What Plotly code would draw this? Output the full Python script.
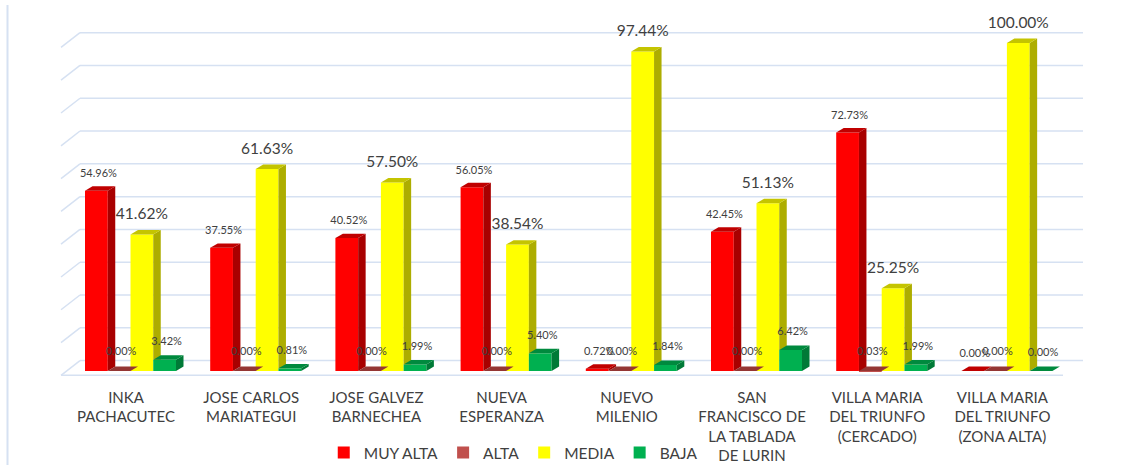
import plotly.graph_objects as go

categories = ["INKA<br>PACHACUTEC", "JOSE CARLOS<br>MARIATEGUI", "JOSE GALVEZ<br>BARNECHEA", "NUEVA<br>ESPERANZA",
              "NUEVO<br>MILENIO", "SAN<br>FRANCISCO DE<br>LA TABLADA<br>DE LURIN",
              "VILLA MARIA<br>DEL TRIUNFO<br>(CERCADO)", "VILLA MARIA<br>DEL TRIUNFO<br>(ZONA ALTA)"]
muy_alta = [54.96, 37.55, 40.52, 56.05, 0.72, 42.45, 72.73, 0.00]
alta = [0.00, 0.00, 0.00, 0.00, 0.00, 0.00, 0.03, 0.00]
media = [41.62, 61.63, 57.50, 38.54, 97.44, 51.13, 25.25, 100.00]
baja = [3.42, 0.81, 1.99, 5.40, 1.84, 6.42, 1.99, 0.00]
grid_levels = [0, 10, 20, 30, 40, 50, 60, 70, 80, 90, 100]

FONT = "Lato"
TXT = "#404040"
PX_X = 125.2
PX_Y = 3.315
W, H = 1133, 470
BOTTOM = 386
BASE = 375
bw = 22.75 / PX_X
dx, dy = 7.5 / PX_X, 4.5 / PX_Y

series = [
    ("MUY ALTA", muy_alta, "#FF0000", "#A80000", "#C00000", 11, 5.0),
    ("ALTA", alta, "#C0504D", "#943634", "#943634", 11, 5.8),
    ("MEDIA", media, "#FFFF00", "#ADAD00", "#C4C400", 15.5, 5.8),
    ("BAJA", baja, "#00B050", "#007A37", "#008A3E", 11, 5.3),
]

fig = go.Figure()
xs = list(range(len(categories)))

for s, (name, vals, col, *_) in enumerate(series):
    fig.add_trace(go.Bar(x=xs, y=vals, name=name, marker=dict(color=col, line_width=0),
                         width=bw, offset=(s - 2) * bw, hoverinfo="skip"))

for s, (name, vals, col, side, top, fs, gap) in enumerate(series):
    next_vals = series[s + 1][1] if s + 1 < len(series) else [0] * len(vals)
    for i, v in enumerate(vals):
        x0 = i + (s - 2) * bw
        x1 = x0 + bw
        low = next_vals[i] if next_vals[i] < v else 0
        if v > 0.5:
            fig.add_trace(go.Scatter(x=[x1, x1, x1 + dx, x1 + dx, x1], y=[low, v, v + dy, low + dy * (low == 0), low],
                                     fill="toself", fillcolor=side, mode="none", showlegend=False, hoverinfo="skip"))
        fig.add_trace(go.Scatter(x=[x0, x1, x1 + dx, x0 + dx, x0], y=[v, v, v + dy, v + dy, v],
                                 fill="toself", fillcolor=top, mode="none", showlegend=False, hoverinfo="skip"))

for s, (name, vals, col, side, top, fs, gap) in enumerate(series):
    fig.add_trace(go.Scatter(
        x=[i + (s - 1.5) * bw + (2 if s != 2 else 0) / PX_X for i in xs],
        y=[v + gap for v in vals],
        text=[f"{v:.2f}%" for v in vals], mode="text",
        textposition="middle center",
        textfont=dict(family=FONT, size=fs, color=TXT),
        showlegend=False, hoverinfo="skip"))

grid = "#D6E1F2"
line = dict(color=grid, width=1.5)
back = 3.17
x_front0 = (61 - 130.5) / PX_X
x_front1 = (1063 - 130.5) / PX_X
x_back0 = (80 - 130.5) / PX_X
x_back1 = (1083 - 130.5) / PX_X
shapes = []
for g in grid_levels:
    shapes.append(dict(type="line", x0=x_back0, x1=x_back1, y0=g + back, y1=g + back, xref="x", yref="y", layer="below", line=line))
    shapes.append(dict(type="line", x0=x_front0, x1=x_back0, y0=g + back - 4.5, y1=g + back, xref="x", yref="y", layer="below", line=line))
shapes.append(dict(type="line", x0=x_front0, x1=x_front1, y0=back - 4.5, y1=back - 4.5, xref="x", yref="y", layer="below", line=line))
shapes.append(dict(type="line", x0=7.5 / W, x1=7.5 / W, y0=0, y1=(H - 5) / H,
                   xref="paper", yref="paper", layer="below", line=dict(color=grid, width=2)))

fig.update_layout(
    width=W, height=H, autosize=False,
    margin=dict(l=0, r=0, t=0, b=0, pad=0),
    paper_bgcolor="white", plot_bgcolor="rgba(0,0,0,0)",
    barmode="overlay", shapes=shapes,
    font=dict(family=FONT, color=TXT),
    xaxis=dict(range=[(0 - 130.5) / PX_X, (W - 130.5) / PX_X], showgrid=False, zeroline=False, showline=False,
               tickmode="array", tickvals=[i - 4.5 / PX_X for i in xs], ticktext=categories,
               ticks="", tickangle=0, tickfont=dict(family=FONT, size=15, color=TXT), ticklabelstandoff=5),
    yaxis=dict(domain=[(H - BOTTOM) / H, 1], range=[(BASE - BOTTOM) / PX_Y, BASE / PX_Y], showgrid=False,
               zeroline=False, showline=False, showticklabels=False, ticks=""),
    legend=dict(orientation="h", x=0.453, xanchor="center", y=(H - 458) / H, yanchor="middle",
                font=dict(family=FONT, size=15.5, color=TXT), bgcolor="rgba(0,0,0,0)", traceorder="normal"),
    showlegend=True,
)

fig.write_html("out.html", config={"displayModeBar": False},
               post_script="document.body.style.margin='0';document.documentElement.style.overflow='hidden';")
